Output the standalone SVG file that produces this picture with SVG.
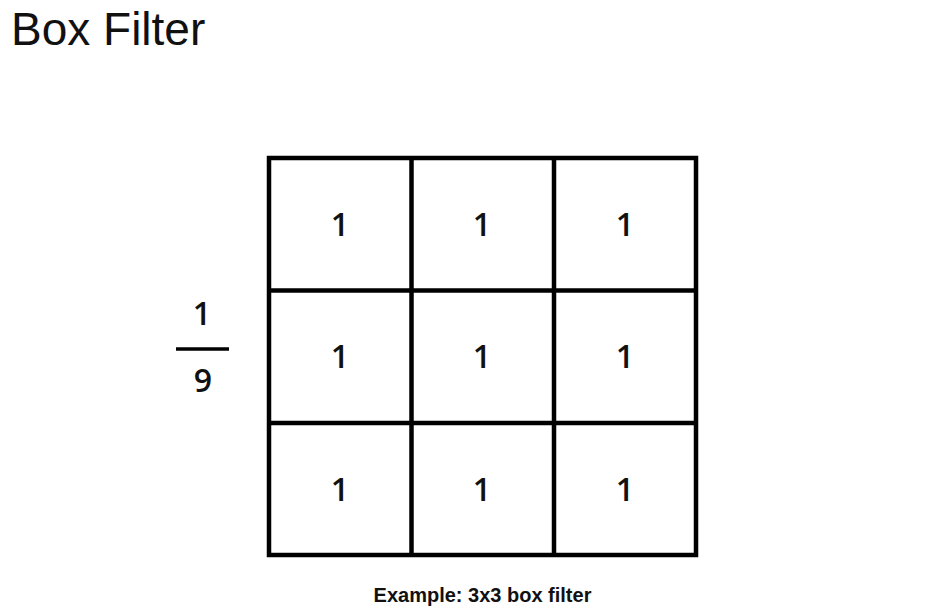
<svg xmlns="http://www.w3.org/2000/svg" width="942" height="608" viewBox="0 0 942 608">
<style>
.t{font-family:"Liberation Sans",Arial,sans-serif;fill:#111}
.n{font-family:"Open Sans","Liberation Sans",sans-serif;font-size:32px;font-weight:600;text-anchor:middle}
.g{fill:none;stroke:#000;stroke-width:4.5}
</style>
<rect width="942" height="608" fill="#fff"/>
<text class="t" x="11" y="45" font-size="46" fill="#222">Box Filter</text>
<g id="fraction">
<text class="t n" x="202" y="325">1</text>
<line x1="176" y1="349" x2="229" y2="349" stroke="#000" stroke-width="3.5"/>
<text class="t n" x="203" y="392">9</text>
</g>
<g id="grid">
<rect class="g" x="269" y="158" width="427" height="397"/>
<line class="g" x1="411.5" y1="158" x2="411.5" y2="555"/>
<line class="g" x1="554" y1="158" x2="554" y2="555"/>
<line class="g" x1="269" y1="290.5" x2="696" y2="290.5"/>
<line class="g" x1="269" y1="423" x2="696" y2="423"/>
</g>
<g id="cells">
<text class="t n" x="340" y="236">1</text>
<text class="t n" x="482" y="236">1</text>
<text class="t n" x="625" y="236">1</text>
<text class="t n" x="340" y="368">1</text>
<text class="t n" x="482" y="368">1</text>
<text class="t n" x="625" y="368">1</text>
<text class="t n" x="340" y="501">1</text>
<text class="t n" x="482" y="501">1</text>
<text class="t n" x="625" y="501">1</text>
</g>
<text class="t" x="482.5" y="602" font-size="20" font-weight="bold" text-anchor="middle" fill="#222">Example: 3x3 box filter</text>
</svg>
